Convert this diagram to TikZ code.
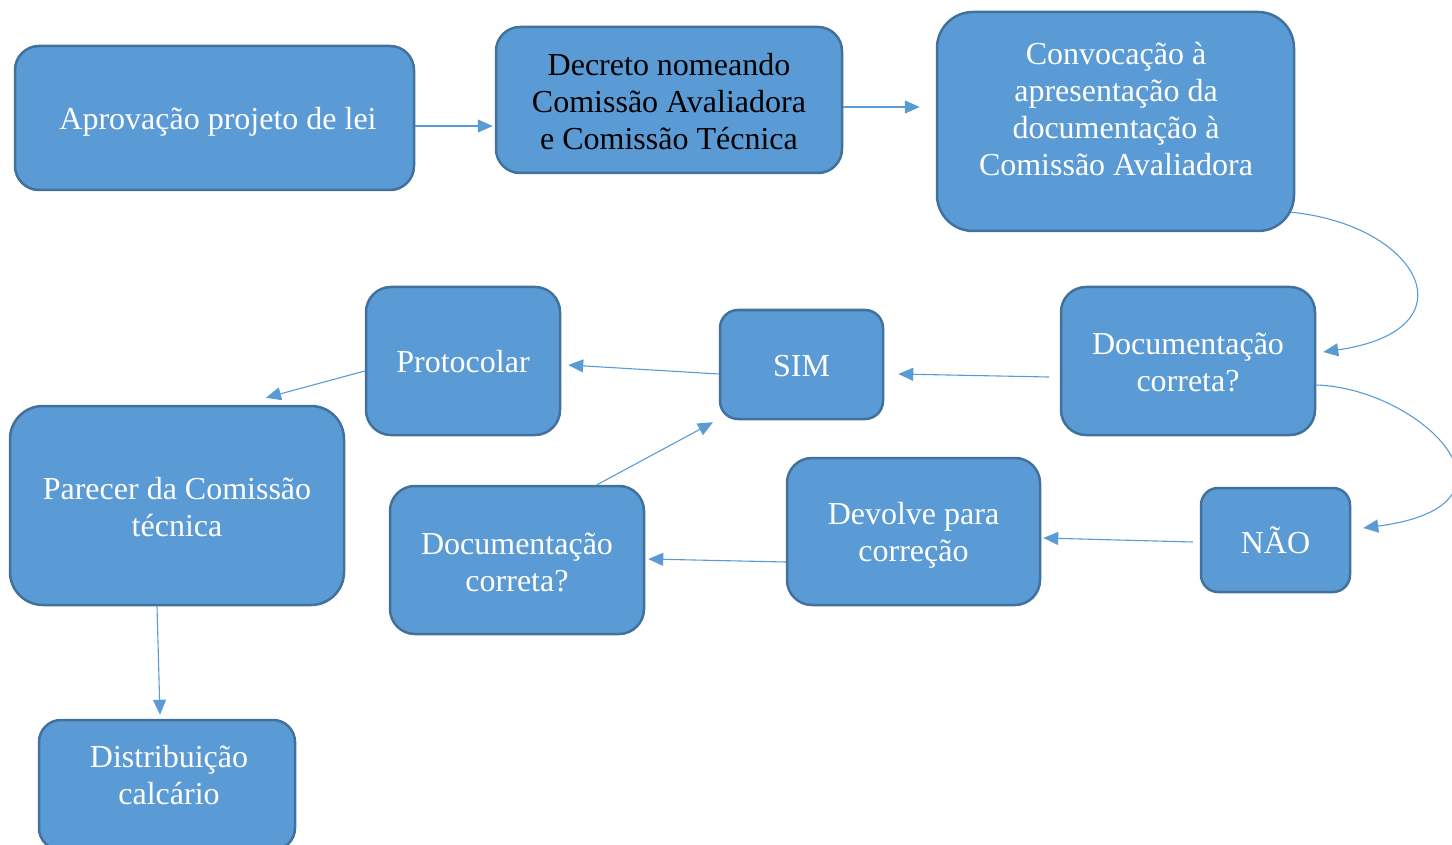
\documentclass[tikz,border=0pt]{standalone}
\usepackage{fontspec}
\setmainfont{Liberation Serif}
\usetikzlibrary{arrows.meta}
\definecolor{boxfill}{HTML}{5B9BD5}
\definecolor{boxline}{HTML}{41719C}
\tikzset{
  box/.style={draw=boxline, fill=boxfill, line width=2.5pt, text=white, align=center,
    font=\fontsize{32}{37}\selectfont, inner sep=0pt},
  txt/.style={text=white, align=center, font=\fontsize{32}{37}\selectfont, inner sep=0pt},
  arr/.style={draw=boxfill, line width=1.1pt, -{Triangle[length=15pt,width=13pt]}},
}
\begin{document}
\begin{tikzpicture}[x=1pt,y=-1pt]
\useasboundingbox (0,0) rectangle (1452,845);
\node[box, minimum width=399pt, minimum height=144pt, rounded corners=24pt] (aprov) at (214.5,118) {};
\node[txt] (aprovt) at (218,122) {Aprovação projeto de lei};
\node[box, minimum width=346pt, minimum height=146pt, rounded corners=24pt] (decreto) at (669,100) {};
\node[txt, text=black] (decretot) at (669,102) {Decreto nomeando\\Comissão Avaliadora\\e Comissão Técnica};
\node[box, minimum width=357pt, minimum height=219pt, rounded corners=36pt] (convoc) at (1115.5,121.5) {};
\node[txt] (convoct) at (1116,109) {Convocação à\\apresentação da\\documentação à\\Comissão Avaliadora};
\node[box, minimum width=254pt, minimum height=148pt, rounded corners=25pt] (docr) at (1188,361) {};
\node[txt] (docrt) at (1188,362) {Documentação\\correta?};
\node[box, minimum width=163pt, minimum height=109pt, rounded corners=18pt] (sim) at (801.5,364.5) {};
\node[txt] (simt) at (801.5,366.5) {SIM};
\node[box, minimum width=194pt, minimum height=148pt, rounded corners=25pt] (protoc) at (463,361) {};
\node[txt] (protoct) at (463,362) {Protocolar};
\node[box, minimum width=334pt, minimum height=199pt, rounded corners=33pt] (parecer) at (177,505.5) {};
\node[txt] (parecert) at (177,507.5) {Parecer da Comissão\\técnica};
\node[box, minimum width=256pt, minimum height=130pt, rounded corners=22pt] (dist) at (167,785) {};
\node[txt] (distt) at (169,775) {Distribuição\\calcário};
\node[box, minimum width=254pt, minimum height=148pt, rounded corners=25pt] (docl) at (517,560) {};
\node[txt] (doclt) at (517,562) {Documentação\\correta?};
\node[box, minimum width=253pt, minimum height=147pt, rounded corners=25pt] (devolve) at (913.5,531.5) {};
\node[txt] (devolvet) at (913.5,535) {Devolve para\\correção};
\node[box, minimum width=149pt, minimum height=104pt, rounded corners=17pt] (nao) at (1275.5,540) {};
\node[txt] (naot) at (1275.5,540) {NÃO};

\draw[arr] ([yshift=-8pt]aprov.east) -- ([xshift=-2pt,yshift=-26pt]decreto.west);
\draw[arr] ([yshift=-7pt]decreto.east) -- ([xshift=-16pt,yshift=14.5pt]convoc.west);
\draw[arr] ([xshift=-4pt,yshift=20pt]convoc.south east) .. controls (1420,225) and (1475,330) .. ([xshift=7pt,yshift=9pt]docr.east);
\draw[arr] ([yshift=-24pt]docr.east) .. controls (1420,388) and (1540,505) .. ([xshift=12pt,yshift=12pt]nao.east);
\draw[arr] ([xshift=-11pt,yshift=-16pt]docr.west) -- ([xshift=14pt,yshift=-9.5pt]sim.east);
\draw[arr] ([yshift=-9.5pt]sim.west) -- ([xshift=7pt,yshift=-4pt]protoc.east);
\draw[arr] ([yshift=-10pt]protoc.west) -- ([xshift=89pt,yshift=7pt]parecer.north);
\draw[arr] ([xshift=-20pt]parecer.south) -- ([xshift=-7pt,yshift=4pt]dist.north);
\draw[arr] ([xshift=-7pt,yshift=-2pt]nao.west) -- ([xshift=2pt,yshift=-6.5pt]devolve.east);
\draw[arr] ([yshift=-30.5pt]devolve.west) -- ([xshift=3pt,yshift=1pt]docl.east);
\draw[arr] ([xshift=80pt]docl.north) -- ([xshift=-88.5pt,yshift=-2pt]sim.south);
\end{tikzpicture}
\end{document}
